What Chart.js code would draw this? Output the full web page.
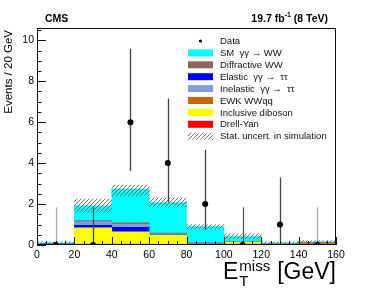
<!DOCTYPE html>
<html>
<head>
<meta charset="utf-8">
<script src="https://cdn.jsdelivr.net/npm/chart.js@4/dist/chart.umd.min.js"></script>
<style>
  html, body { margin: 0; padding: 0; background: #fff; }
  canvas { display: block; }
</style>
</head>
<body>
<canvas id="chart" width="374" height="290"></canvas>
<script>
'use strict';

// bin centres (20 GeV bins from 0 to 160)
var binCentres   = [10, 30, 50, 70, 90, 110, 130, 150];

// stacked simulation, bottom to top
var drellYan     = [0.01, 0.02, 0.02, 0.01, 0.01, 0.01, 0.01, 0.01];
var ewkWWqq      = [0.00, 0.02, 0.02, 0.01, 0.01, 0.03, 0.03, 0.08];
var inclDiboson  = [0.02, 0.80, 0.60, 0.45, 0.02, 0.10, 0.00, 0.00];
var elasticTT    = [0.01, 0.12, 0.22, 0.02, 0.02, 0.00, 0.00, 0.00];
var inelasticTT  = [0.01, 0.18, 0.15, 0.04, 0.04, 0.01, 0.01, 0.01];
var diffractWW   = [0.00, 0.05, 0.07, 0.05, 0.02, 0.01, 0.00, 0.00];
var smWW         = [0.05, 0.72, 1.65, 1.49, 0.78, 0.25, 0.05, 0.06];

// stat. uncertainty band on the simulation
var uncLow       = [0.05, 1.60, 2.40, 1.86, 0.78, 0.30, 0.05, 0.10];
var uncHigh      = [0.15, 2.24, 2.93, 2.29, 1.00, 0.55, 0.15, 0.22];

// data with asymmetric poisson errors
var dataCounts   = [0, 0, 6, 4, 2, 0, 1, 0];
var dataErrLow   = [0, 0, 3.62, 2.08, 0.71, 0, 0.17, 0];
var dataErrHigh  = [1.84, 1.84, 9.58, 7.16, 4.64, 1.84, 3.30, 1.84];

// axis ticks
var xTicks       = [0, 20, 40, 60, 80, 100, 120, 140, 160];
var yTicks       = [0, 2, 4, 6, 8, 10];

var Y_MAX = 10.6;
var FONT = '"Liberation Sans", Arial, sans-serif';
var errBarColors = ['#aaa', '#444', '#444', '#444', '#444', '#555', '#444', '#aaa'];

function points(values) {
    return binCentres.map(function (x, i) { return { x: x, y: values[i] }; });
}

function makeHatch() {
    var c = document.createElement('canvas');
    c.width = 4; c.height = 4;
    var g = c.getContext('2d');
    g.strokeStyle = '#666';
    g.lineWidth = 0.9;
    g.beginPath();
    g.moveTo(0, 4); g.lineTo(4, 0);
    g.moveTo(-1, 1); g.lineTo(1, -1);
    g.moveTo(3, 5); g.lineTo(5, 3);
    g.stroke();
    return g.createPattern(c, 'repeat');
}
var hatch = makeHatch();

function stackSet(label, values, color) {
    return {
        type: 'bar', label: label, data: points(values),
        backgroundColor: color, borderWidth: 0,
        yAxisID: 'y', grouped: false,
        barPercentage: 1, categoryPercentage: 1
    };
}

var datasets = [
    {
        type: 'scatter', label: 'Data', data: points(dataCounts),
        yAxisID: 'yd', pointRadius: 3, pointHoverRadius: 3,
        backgroundColor: '#000', borderColor: '#000', borderWidth: 0
    },
    {
        type: 'bar', label: 'Stat. uncert. in simulation',
        data: binCentres.map(function (x, i) { return { x: x, y: [uncLow[i], uncHigh[i]] }; }),
        backgroundColor: hatch, borderWidth: 0, yAxisID: 'yu', grouped: false,
        barPercentage: 1, categoryPercentage: 1
    },
    stackSet('Drell-Yan', drellYan, '#ff0000'),
    stackSet('EWK WWqq', ewkWWqq, '#cc6600'),
    stackSet('Inclusive diboson', inclDiboson, '#ffff00'),
    stackSet('Elastic  \u03b3\u03b3 \u2192  \u03c4\u03c4', elasticTT, '#0000ff'),
    stackSet('Inelastic  \u03b3\u03b3 \u2192  \u03c4\u03c4', inelasticTT, '#7f9fdc'),
    stackSet('Diffractive WW', diffractWW, '#8c6a5a'),
    stackSet('SM  \u03b3\u03b3 \u2192 WW', smWW, '#00ffff')
];

// legend order, top to bottom
var legendOrder = [0, 8, 7, 5, 6, 3, 4, 2, 1];

var errorBars = {
    id: 'errorBars',
    beforeDatasetDraw: function (chart, args) {
        if (args.index !== 0) return;
        var x = chart.scales.x, y = chart.scales.yd, ctx = chart.ctx;
        ctx.save();
        ctx.lineWidth = 1.3;
        binCentres.forEach(function (c, i) {
            var px = Math.round(x.getPixelForValue(c)) + 0.5;
            ctx.strokeStyle = errBarColors[i];
            ctx.beginPath();
            ctx.moveTo(px, y.getPixelForValue(dataErrLow[i]));
            ctx.lineTo(px, y.getPixelForValue(dataErrHigh[i]));
            ctx.stroke();
        });
        ctx.restore();
    }
};

var decorations = {
    id: 'decorations',
    afterDraw: function (chart) {
        var ctx = chart.ctx, a = chart.chartArea;
        var x = chart.scales.x, y = chart.scales.y;
        ctx.save();

        // frame and inward ticks
        ctx.strokeStyle = '#111';
        ctx.lineWidth = 1;
        ctx.strokeRect(a.left + 0.5, a.top + 0.5, a.right - a.left - 1, a.bottom - a.top - 1);
        ctx.beginPath();
        for (var v = 0; v <= 10.5; v += 0.5) {
            var py = Math.round(y.getPixelForValue(v)) + 0.5;
            var len = (v % 2 === 0) ? 9 : 4.5;
            ctx.moveTo(a.left, py); ctx.lineTo(a.left + len, py);
        }
        for (var u = 0; u <= 160; u += 5) {
            var px = Math.round(x.getPixelForValue(u)) + 0.5;
            var l2 = (u % 20 === 0) ? 8 : 4;
            ctx.moveTo(px, a.bottom); ctx.lineTo(px, a.bottom - l2);
        }
        ctx.stroke();

        // header
        ctx.fillStyle = '#000';
        ctx.textBaseline = 'alphabetic';
        ctx.font = 'bold 10.5px ' + FONT;
        ctx.textAlign = 'left';
        ctx.fillText('CMS', 45, 22);
        var t1 = '19.7 fb', t2 = '-1', t3 = ' (8 TeV)';
        var w1 = ctx.measureText(t1).width, w3 = ctx.measureText(t3).width;
        ctx.font = 'bold 7px ' + FONT;
        var w2 = ctx.measureText(t2).width;
        var sx = 328 - (w1 + w2 + w3);
        ctx.font = 'bold 10.5px ' + FONT;
        ctx.fillText(t1, sx, 22);
        ctx.fillText(t3, sx + w1 + w2, 22);
        ctx.font = 'bold 7px ' + FONT;
        ctx.fillText(t2, sx + w1, 17);

        // y title
        ctx.save();
        ctx.translate(12, 30);
        ctx.rotate(-Math.PI / 2);
        ctx.font = '11.5px ' + FONT;
        ctx.textAlign = 'right';
        ctx.fillText('Events / 20 GeV', 0, 0);
        ctx.restore();

        // x title
        ctx.font = '23px ' + FONT;
        var wE = ctx.measureText('E').width, wG = ctx.measureText('[GeV]').width;
        ctx.font = '15px ' + FONT;
        var wM = ctx.measureText('miss').width;
        var start = 336 - (wE + 1 + wM + 7 + wG);
        ctx.font = '23px ' + FONT;
        ctx.fillText('E', start, 279);
        ctx.fillText('[GeV]', start + wE + 1 + wM + 7, 279);
        ctx.font = '15px ' + FONT;
        ctx.fillText('miss', start + wE + 1, 271);
        ctx.fillText('T', start + wE + 1, 286);

        // legend
        var lx = 188, lw = 25, lh = 7, ly0 = 41, step = 11.9;
        ctx.font = '9.5px ' + FONT;
        ctx.textBaseline = 'middle';
        legendOrder.forEach(function (di, k) {
            var ds = chart.data.datasets[di];
            var cy = ly0 + k * step;
            if (ds.type === 'scatter') {
                ctx.fillStyle = '#000';
                ctx.beginPath();
                ctx.arc(lx + lw / 2, cy, 1.6, 0, Math.PI * 2);
                ctx.fill();
            } else {
                ctx.fillStyle = ds.backgroundColor;
                ctx.fillRect(lx, cy - lh / 2, lw, lh);
            }
            ctx.fillStyle = '#111';
            ctx.fillText(ds.label, 220, cy + 0.5);
        });

        ctx.restore();
    }
};

function hiddenAxis() {
    return { display: false, min: 0, max: Y_MAX };
}

new Chart(document.getElementById('chart'), {
    type: 'bar',
    data: { datasets: datasets },
    options: {
        responsive: false,
        animation: false,
        devicePixelRatio: 1,
        layout: { padding: { left: 0, top: 28, right: 38, bottom: 0 } },
        plugins: {
            legend: { display: false },
            title: { display: false },
            tooltip: { enabled: false }
        },
        scales: {
            x: {
                type: 'linear', min: 0, max: 160, offset: false,
                grid: { display: false, drawTicks: false, offset: false },
                border: { display: false },
                afterBuildTicks: function (s) { s.ticks = xTicks.map(function (v) { return { value: v }; }); },
                afterFit: function (s) { s.height = 45; },
                ticks: { color: '#000', font: { family: FONT, size: 10.5 }, padding: 4, maxRotation: 0, autoSkip: false }
            },
            y: {
                stacked: true, min: 0, max: Y_MAX,
                grid: { display: false, drawTicks: false },
                border: { display: false },
                afterBuildTicks: function (s) { s.ticks = yTicks.map(function (v) { return { value: v }; }); },
                afterFit: function (s) { s.width = 37; },
                ticks: { color: '#000', font: { family: FONT, size: 10.5 }, padding: 3 }
            },
            yu: hiddenAxis(),
            yd: hiddenAxis()
        }
    },
    plugins: [errorBars, decorations]
});
</script>
</body>
</html>
